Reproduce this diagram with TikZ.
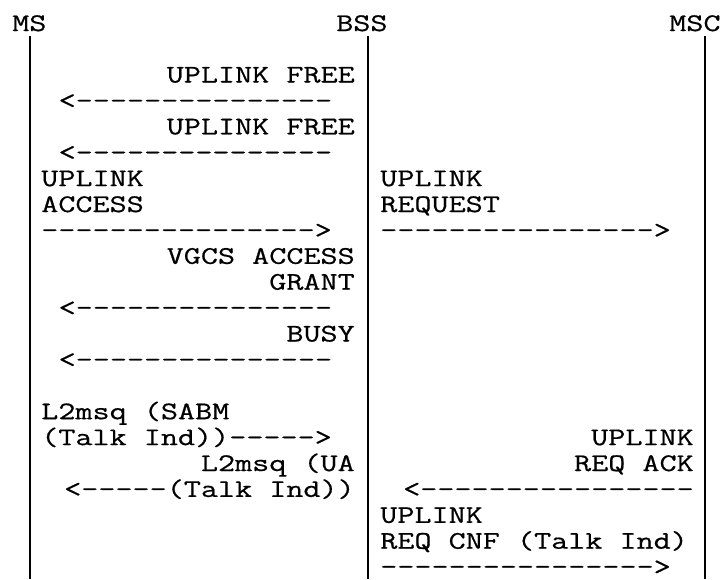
\documentclass[tikz,border=0pt]{standalone}
\usepackage{fontspec}
\setmonofont[FakeStretch=1.31, FakeBold=0.6]{Latin Modern Mono}
\usepackage{tikz}
\usetikzlibrary{positioning}

\begin{document}
\begin{tikzpicture}[x=0.75pt, y=-0.75pt,
        entity/.style={font=\ttfamily\fontsize{19}{19.5}\selectfont, inner sep=0pt, anchor=base west},
        msg/.style={font=\ttfamily\fontsize{19}{19.5}\selectfont, inner sep=0pt, anchor=base west},
        msgr/.style={msg, anchor=base east},
        lifeline/.style={line width=1.4pt}
    ]
        \useasboundingbox (0,0) rectangle (721,579);

        % entities
        \node[entity] (ms) at (12,31) {MS};
        \node[entity] (bss) at (336,31) {BSS};
        \node[entity] (msc) at (669,31) {MSC};

        \coordinate (msTop) at (30,36);
        \coordinate (msBot) at (30,579);
        \coordinate (bssTop) at (368,36);
        \coordinate (bssBot) at (368,579);
        \coordinate (mscTop) at (705,36);
        \coordinate (mscBot) at (705,579);
        \draw[lifeline] (msTop) -- (msBot);
        \draw[lifeline] (bssTop) -- (bssBot);
        \draw[lifeline] (mscTop) -- (mscBot);

        % MS <-> BSS
        \node[msgr] (free1) at (355,82.5) {UPLINK FREE};
        \node[msg] (free1arr) at (58.4,108.4) {<---------------};
        \node[msgr] (free2) at (355,134.3) {UPLINK FREE};
        \node[msg] (free2arr) at (58.4,160.2) {<---------------};
        \node[msg] (access) at (41,186.1) {UPLINK};
        \node[msg] (access2) at (41,212) {ACCESS};
        \node[msg] (accessarr) at (41,237.9) {---------------->};
        \node[msgr] (grant) at (355,263.8) {VGCS ACCESS};
        \node[msgr] (grant2) at (355,289.7) {GRANT};
        \node[msg] (grantarr) at (58.4,315.6) {<---------------};
        \node[msgr] (busy) at (355,341.5) {BUSY};
        \node[msg] (busyarr) at (58.4,367.4) {<---------------};
        \node[msg] (sabm) at (41,419.2) {L2msq (SABM};
        \node[msg] (sabmarr) at (41,445.1) {(Talk Ind))----->};
        \node[msgr] (ua) at (355,471) {L2msq (UA};
        \node[msgr] (uaarr) at (355,496.9) {<-----(Talk Ind))};

        % BSS <-> MSC
        \node[msg] (req) at (380,186.1) {UPLINK};
        \node[msg] (req2) at (380,212) {REQUEST};
        \node[msg] (reqarr) at (380,237.9) {---------------->};
        \node[msgr] (ack) at (694,445.1) {UPLINK};
        \node[msgr] (ack2) at (694,471) {REQ ACK};
        \node[msgr] (ackarr) at (694,496.9) {<----------------};
        \node[msg] (cnf) at (380,522.8) {UPLINK};
        \node[msg] (cnf2) at (380,548.7) {REQ CNF (Talk Ind)};
        \node[msg] (cnfarr) at (380,574.6) {---------------->};
    \end{tikzpicture}
\end{document}
